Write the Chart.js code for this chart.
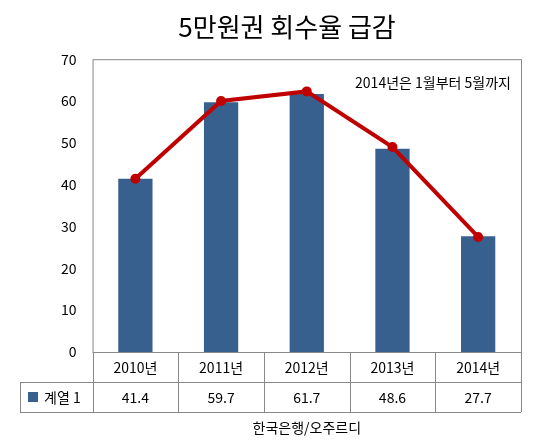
<!DOCTYPE html>
<html><head><meta charset="utf-8">
<script src="https://cdn.jsdelivr.net/npm/chart.js@4"></script>
<style>body{margin:0;background:#fff}#w{width:537px;height:444px}</style>
</head><body><div id="w"><canvas id="c" width="537" height="444"></canvas></div>
<script>
const categories = ['2010년','2011년','2012년','2013년','2014년'];
const barValues = [41.4, 59.7, 61.7, 48.6, 27.7];
const lineValues = [41.4, 60.0, 62.3, 49.0, 27.5];
const seriesName = '계열 1';
const titleText = '5만원권 회수율 급감';
const noteText = '2014년은 1월부터 5월까지';
const sourceText = '한국은행/오주르디';
const F = '"Noto Sans CJK KR", "Noto Sans", sans-serif';

const tablePlugin = {
  id: 'tbl',
  afterDraw(chart) {
    const ctx = chart.ctx, ca = chart.chartArea, xs = chart.scales.x;
    const n = categories.length, cw = (ca.right - ca.left) / n;
    const r1 = ca.bottom + 30, r2 = ca.bottom + 60, left = 20;
    ctx.save();
    ctx.strokeStyle = '#888'; ctx.lineWidth = 1;
    ctx.strokeRect(ca.left + 0.5, ca.top + 0.5, ca.right - ca.left, ca.bottom - ca.top);
    ctx.beginPath();
    ctx.moveTo(left, r1 + 0.5); ctx.lineTo(ca.right, r1 + 0.5);
    ctx.moveTo(left, r2 + 0.5); ctx.lineTo(ca.right, r2 + 0.5);
    ctx.moveTo(left + 0.5, r1); ctx.lineTo(left + 0.5, r2);
    for (let i = 0; i <= n; i++) {
      const x = Math.round(ca.left + i * cw) + 0.5;
      ctx.moveTo(x, ca.bottom); ctx.lineTo(x, r2);
    }
    ctx.stroke();
    ctx.fillStyle = '#000'; ctx.font = '14px ' + F;
    ctx.textAlign = 'center'; ctx.textBaseline = 'middle';
    categories.forEach((c, i) => {
      const x = xs.getPixelForValue(i);
      ctx.fillText(c, x, ca.bottom + 16);
      ctx.fillText(String(barValues[i]), x, r1 + 16);
    });
    ctx.fillStyle = '#38608F';
    ctx.fillRect(left + 8, r1 + 10, 10, 10);
    ctx.fillStyle = '#000'; ctx.textAlign = 'left';
    ctx.fillText(seriesName, left + 24, r1 + 16);
    ctx.textAlign = 'center';
    ctx.fillText(sourceText, (ca.left + ca.right) / 2, r2 + 16);
    ctx.textAlign = 'right';
    ctx.fillText(noteText, ca.right - 10, ca.top + 23);
    ctx.restore();
  }
};

new Chart(document.getElementById('c'), {
  data: {
    labels: categories,
    datasets: [
      { type: 'line', data: lineValues, borderColor: '#C00000', backgroundColor: '#C00000',
        borderWidth: 4, pointRadius: 3, pointBackgroundColor: '#C00000', tension: 0, order: 0 },
      { type: 'bar', data: barValues, backgroundColor: '#38608F',
        barPercentage: 0.4, categoryPercentage: 1, order: 1 }
    ]
  },
  options: {
    responsive: false, animation: false,
    layout: { padding: { top: 0, bottom: 84, right: 16, left: 53 } },
    plugins: {
      legend: { display: false }, tooltip: { enabled: false },
      title: { display: true, text: titleText, color: '#000',
        font: { family: F, size: 26, weight: 'normal' }, padding: { top: 12, bottom: 16 } }
    },
    scales: {
      x: { ticks: { display: false }, grid: { display: false }, border: { display: false } },
      y: { min: 0, max: 70, ticks: { stepSize: 10, color: '#000', font: { family: F, size: 14 }, padding: 8 },
        grid: { display: false }, border: { display: false } }
    }
  },
  plugins: [tablePlugin]
});
</script></body></html>
